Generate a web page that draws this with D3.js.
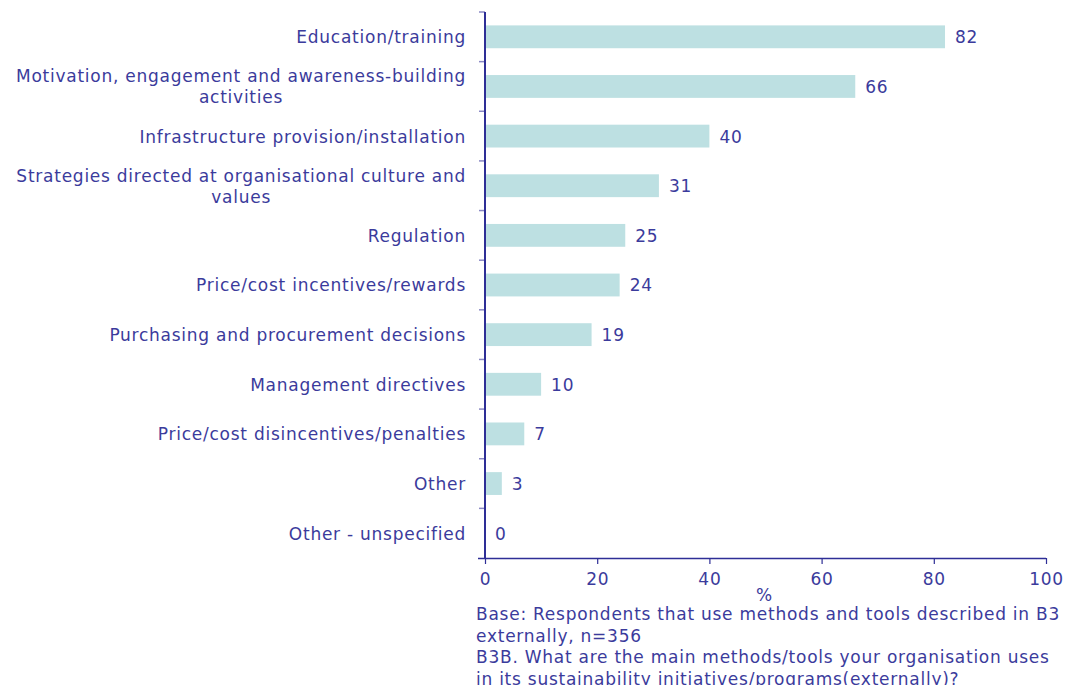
<!DOCTYPE html>
<html>
<head>
<meta charset="utf-8">
<script src="https://cdn.jsdelivr.net/npm/d3@7"></script>
<style>
  html, body { margin: 0; padding: 0; background: #ffffff; }
  svg { display: block; font-family: "DejaVu Sans", Verdana, sans-serif; }
  svg text { letter-spacing: 0.75px; }
</style>
</head>
<body>
<svg id="chart" width="1072" height="685"></svg>
<script>
// Methods/tools used in sustainability initiatives (externally), % of respondents
const categories = [
  "Education/training",
  "Motivation, engagement and awareness-building|activities",
  "Infrastructure provision/installation",
  "Strategies directed at organisational culture and|values",
  "Regulation",
  "Price/cost incentives/rewards",
  "Purchasing and procurement decisions",
  "Management directives",
  "Price/cost disincentives/penalties",
  "Other",
  "Other - unspecified"
];
const values = [82, 66, 40, 31, 25, 24, 19, 10, 7, 3, 0];
const xTicks = [0, 20, 40, 60, 80, 100];
const axisTitle = "%";
const footnotes = [
  "Base: Respondents that use methods and tools described in B3",
  "externally, n=356",
  "B3B. What are the main methods/tools your organisation uses",
  "in its sustainability initiatives/programs(externally)?"
];

const textColor = "#3b3b9c";
const axisColor = "#2e2e96";
const tickColor = "#8a88c4";
const barColor = "#bde0e2";
const fontSize = 17;

const svg = d3.select("#chart");
const plotLeft = 485, plotRight = 1046, plotTop = 12, plotBottom = 558;

const x = d3.scaleLinear().domain([0, 100]).range([plotLeft, plotRight]);
const y = d3.scaleBand().domain(categories).range([plotTop, plotBottom]).paddingInner(0.54).paddingOuter(0.27);

// Bars
svg.append("g").selectAll("rect")
  .data(categories)
  .join("rect")
  .attr("x", x(0))
  .attr("y", d => y(d))
  .attr("width", (d, i) => x(values[i]) - x(0))
  .attr("height", y.bandwidth())
  .attr("fill", barColor);

// Value labels
svg.append("g").selectAll("text")
  .data(categories)
  .join("text")
  .attr("x", (d, i) => x(values[i]) + 10)
  .attr("y", d => y(d) + y.bandwidth() / 2)
  .attr("dy", "0.38em")
  .attr("font-size", fontSize)
  .attr("fill", textColor)
  .text((d, i) => values[i]);

// Category ticks at band boundaries
const step = (plotBottom - plotTop) / categories.length;
const boundaries = d3.range(categories.length).map(i => plotTop + i * step);
svg.append("g").selectAll("line")
  .data(boundaries)
  .join("line")
  .attr("x1", plotLeft - 6).attr("x2", plotLeft)
  .attr("y1", d => d).attr("y2", d => d)
  .attr("stroke", tickColor).attr("stroke-width", 1.5);

// Category labels (right-aligned block, wrapped lines centred on the first line)
const labelX = 466;
const labels = svg.append("g");
categories.forEach(c => {
  const lines = c.split("|");
  const cy = y(c) + y.bandwidth() / 2;
  if (lines.length === 1) {
    labels.append("text")
      .attr("x", labelX).attr("y", cy).attr("dy", "0.38em")
      .attr("text-anchor", "end").attr("font-size", fontSize).attr("fill", textColor)
      .text(lines[0]);
  } else {
    const t1 = labels.append("text")
      .attr("x", labelX).attr("y", cy - 10.5).attr("dy", "0.38em")
      .attr("text-anchor", "end").attr("font-size", fontSize).attr("fill", textColor)
      .text(lines[0]);
    const w = t1.node().getComputedTextLength();
    labels.append("text")
      .attr("x", labelX - w / 2).attr("y", cy + 10.5).attr("dy", "0.38em")
      .attr("text-anchor", "middle").attr("font-size", fontSize).attr("fill", textColor)
      .text(lines[1]);
  }
});

// X axis
const xAxis = svg.append("g")
  .attr("transform", `translate(0,${plotBottom})`)
  .call(d3.axisBottom(x).tickValues(xTicks).tickSize(6).tickSizeOuter(0));
xAxis.select(".domain").attr("stroke", axisColor).attr("stroke-width", 1.5)
  .attr("d", `M${plotLeft - 7},0.5H${plotRight}`);
xAxis.selectAll(".tick line").attr("stroke", axisColor).attr("stroke-width", 1.2);
xAxis.selectAll(".tick text")
  .attr("fill", textColor).attr("font-size", fontSize)
  .attr("font-family", "DejaVu Sans, Verdana, sans-serif")
  .attr("dy", "1.05em");

// Y axis line
svg.append("line")
  .attr("x1", plotLeft).attr("x2", plotLeft)
  .attr("y1", plotTop).attr("y2", plotBottom)
  .attr("stroke", axisColor).attr("stroke-width", 2);

// Axis title
svg.append("text")
  .attr("x", (plotLeft + plotRight) / 2 - 1).attr("y", 601)
  .attr("text-anchor", "middle").attr("font-size", fontSize).attr("fill", textColor)
  .text(axisTitle);

// Footnotes
svg.append("g").selectAll("text")
  .data(footnotes)
  .join("text")
  .attr("x", 476)
  .attr("y", (d, i) => 620 + i * 21.5)
  .attr("font-size", fontSize).attr("fill", textColor)
  .text(d => d);
</script>
</body>
</html>
